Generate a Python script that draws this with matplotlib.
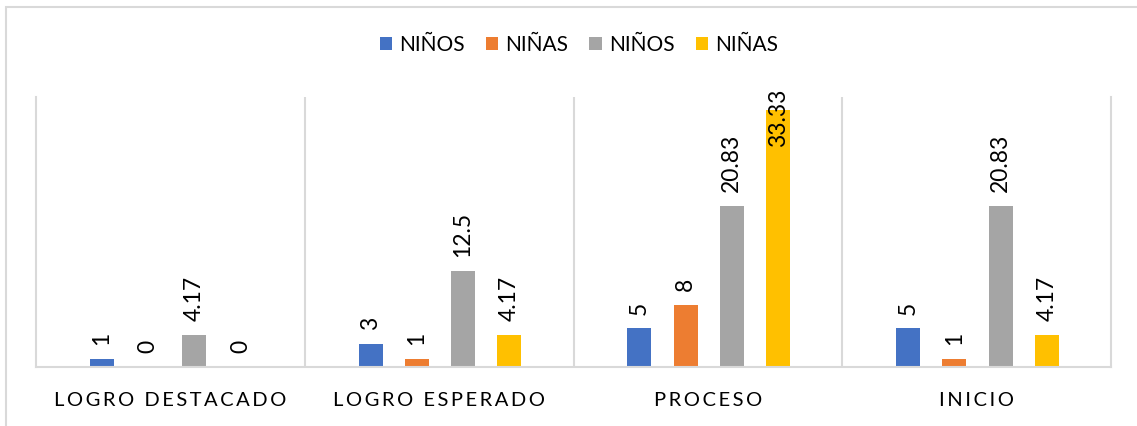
import matplotlib.pyplot as plt
from matplotlib.patches import Rectangle
import numpy as np

plt.rcParams['font.family'] = ['Lato', 'DejaVu Sans']

categorias = ['LOGRO DESTACADO', 'LOGRO ESPERADO', 'PROCESO', 'INICIO']
series = ['NIÑOS', 'NIÑAS', 'NIÑOS', 'NIÑAS']
ninos_1 = [1, 3, 5, 5]
ninas_1 = [0, 1, 8, 1]
ninos_2 = [4.17, 12.5, 20.83, 20.83]
ninas_2 = [0, 4.17, 33.33, 4.17]
colores = ['#4472C4', '#ED7D31', '#A5A5A5', '#FFC000']

valores = [ninos_1, ninas_1, ninos_2, ninas_2]
ymax = 35

fig = plt.figure(figsize=(11.37, 4.26), dpi=100)
ax = fig.add_axes([36/1137, 1-367/426, (1111-36)/1137, (367-97)/426])

# borde exterior del grafico
fig.patches.append(Rectangle((6/1137, -0.1), 1.2, 1-7/426+0.1, transform=fig.transFigure,
                             fill=False, edgecolor='#d9d9d9', linewidth=1.5))

x = np.arange(len(categorias))
ancho = 0.089
paso = 0.172
for i, (vals, nombre, c) in enumerate(zip(valores, series, colores)):
    pos = x + (i - 1.5) * paso + 0.003
    ax.bar(pos, vals, width=ancho, color=c, label=nombre)
    for xb, v in zip(pos, vals):
        if v > ymax * 0.85:
            # no cabe encima: dentro del extremo
            ax.annotate(f'{v:g}', (xb, ymax), xytext=(0, 6), textcoords='offset points',
                        rotation=90, ha='center', va='top', fontsize=16.5)
        else:
            ax.annotate(f'{v:g}', (xb, v), xytext=(0, 10), textcoords='offset points',
                        rotation=90, ha='center', va='bottom', fontsize=16.5)

ax.set_xlim(-0.5, 3.5)
ax.set_ylim(0, ymax)
ax.set_yticks([])
ax.set_xticks(x)
ax.set_xticklabels(['\u2009'.join(list(c)) for c in categorias], fontsize=14.5)
ax.tick_params(axis='x', length=0, pad=18)
ax.set_xticks([0.5, 1.5, 2.5], minor=True)
ax.tick_params(axis='x', which='minor', length=0)
ax.grid(axis='x', which='minor', color='#d9d9d9', linewidth=1.5)
ax.set_axisbelow(True)
ax.spines['top'].set_visible(False)
for s in ['left', 'right', 'bottom']:
    ax.spines[s].set_color('#d9d9d9')
    ax.spines[s].set_linewidth(1.5)

fig.legend(loc='center', bbox_to_anchor=(579/1137, 1-45/426), ncol=4, frameon=False,
           fontsize=15, handlelength=0.6, handleheight=0.6, handletextpad=0.35,
           columnspacing=1.0)

fig.savefig('out.png', dpi=100)
